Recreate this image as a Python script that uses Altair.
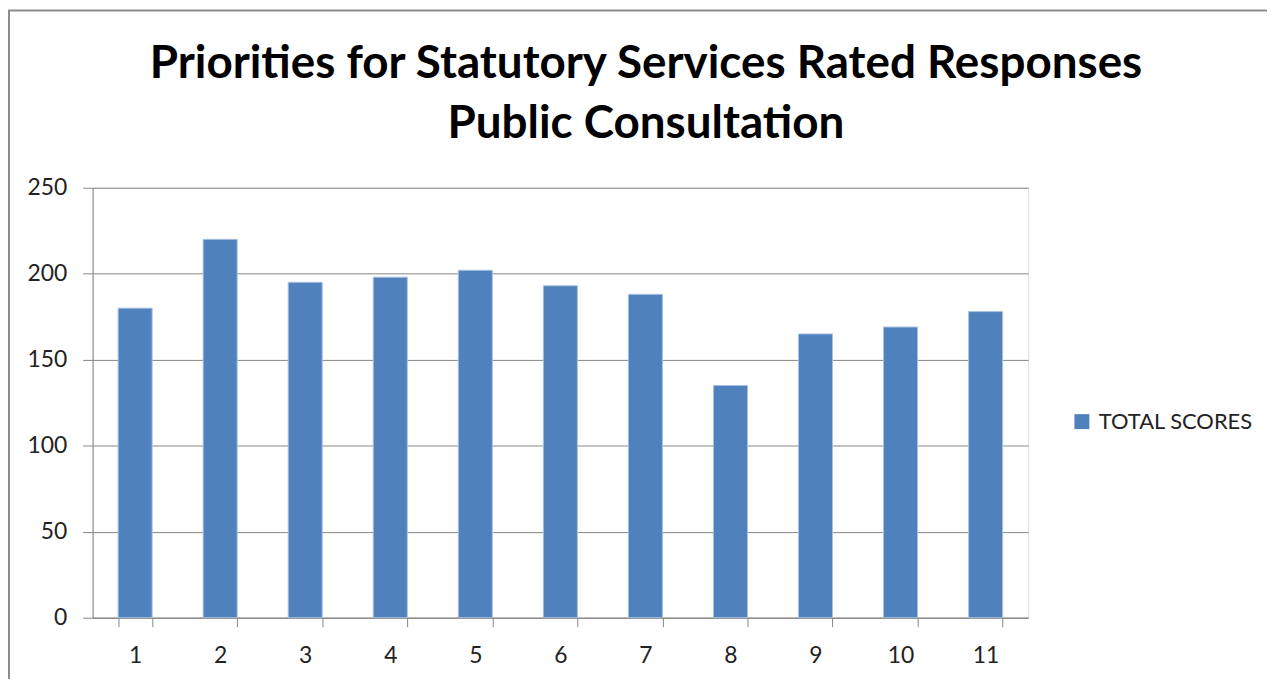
import altair as alt
import pandas as pd

categories = ["1", "2", "3", "4", "5", "6", "7", "8", "9", "10", "11"]
total_scores = [180, 220, 195, 198, 202, 193, 188, 135, 165, 169, 178]
series_name = "TOTAL SCORES"
title_lines = ["Priorities for Statutory Services Rated Responses", "Public Consultation"]
y_ticks = [0, 50, 100, 150, 200, 250]

df = pd.DataFrame({"cat": categories, "value": total_scores, "series": [series_name] * len(categories)})

FONT = "Lato"
GRID = "#868686"
W, H = 940, 432

bars = alt.Chart(df).mark_bar(stroke="#A9C1E0", strokeWidth=1).encode(
    x=alt.X("cat:N", sort=categories, title=None,
            scale=alt.Scale(paddingInner=0.6, paddingOuter=0.3),
            axis=alt.Axis(labelAngle=0, labelFontSize=23, labelFont=FONT, labelColor="#222222",
                          tickBand="extent", tickSize=9, tickColor=GRID, domainColor=GRID,
                          labelPadding=18, grid=False)),
    y=alt.Y("value:Q", title=None,
            scale=alt.Scale(domain=[0, 250], nice=False),
            axis=alt.Axis(values=y_ticks, labelFontSize=23, labelFont=FONT, labelColor="#222222",
                          tickSize=10, tickColor=GRID, domainColor=GRID, gridColor=GRID,
                          labelPadding=16)),
    color=alt.Color("series:N", scale=alt.Scale(range=["#4F81BD"]),
                    legend=alt.Legend(title=None, orient="none", legendX=983, legendY=224,
                                      symbolType="square", symbolSize=225, symbolStrokeWidth=0,
                                      labelFontSize=22, labelFont=FONT, labelColor="#222222",
                                      labelOffset=6, labelLimit=400)),
)

title_df = pd.DataFrame({"line": title_lines, "ty": [-110, -50]})
title = alt.Chart(title_df).mark_text(
    font=FONT, fontSize=46, fontWeight="bold", color="#000000",
    align="center", baseline="alphabetic"
).encode(text="line:N", x=alt.value(556), y=alt.Y("ty:Q", scale=None))

frame_df = pd.DataFrame({"k": [0]})
top_border = alt.Chart(frame_df).mark_rule(color="#8C8C8C", strokeWidth=2).encode(
    x=alt.value(-85), x2=alt.value(1190), y=alt.value(-178))
left_border = alt.Chart(frame_df).mark_rule(color="#8C8C8C", strokeWidth=2).encode(
    x=alt.value(-84), y=alt.value(-178), y2=alt.value(500))

chart = alt.layer(bars, title, top_border, left_border).properties(
    width=W, height=H,
    autosize=alt.AutoSizeParams(type="none"),
    padding={"left": 85, "top": 179, "right": 240, "bottom": 60},
).configure_view(stroke=None).configure(background="white")

chart.save("out.html", embed_options={"renderer": "svg", "actions": False})
